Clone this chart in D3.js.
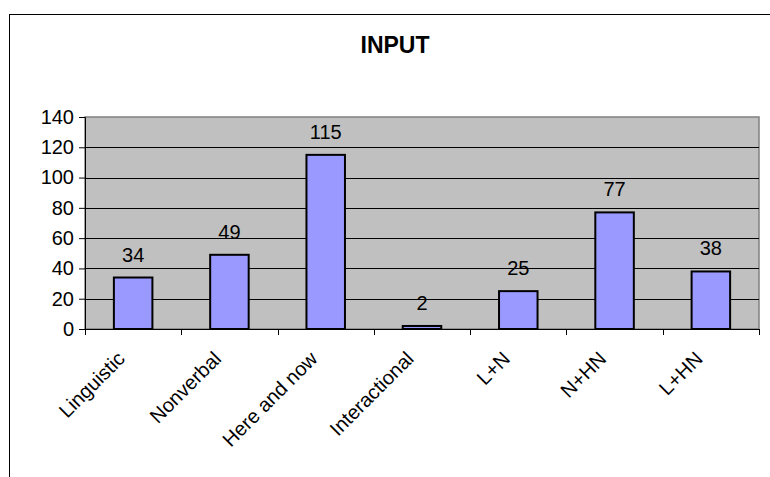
<!DOCTYPE html>
<html>
<head>
<meta charset="utf-8">
<script src="https://cdn.jsdelivr.net/npm/d3@7"></script>
<style>
  body { margin: 0; background: #fff; }
  text { font-family: "Liberation Sans", Arial, sans-serif; }
</style>
</head>
<body>
<div id="chart"></div>
<script>
// categories and counts
const categories = ["Linguistic", "Nonverbal", "Here and now", "Interactional", "L+N", "N+HN", "L+HN"];
const counts = [34, 49, 115, 2, 25, 77, 38];
const yTicks = [0, 20, 40, 60, 80, 100, 120, 140];

const W = 770, H = 477;
const margin = { top: 117, right: 11, bottom: 148, left: 85 };
const width = W - margin.left - margin.right;
const height = H - margin.top - margin.bottom;
const fontSize = "20px";

const svg = d3.select("#chart").append("svg")
    .attr("width", W)
    .attr("height", H);

// outer frame (runs off the right and bottom edges)
svg.append("rect")
    .attr("x", 9.5).attr("y", 14.5)
    .attr("width", W + 10).attr("height", H + 10)
    .attr("fill", "none")
    .attr("stroke", "#000")
    .attr("stroke-width", 1);

svg.append("text")
    .attr("x", 395).attr("y", 53)
    .attr("text-anchor", "middle")
    .style("font-size", "23px")
    .style("font-weight", "bold")
    .text("INPUT");

const g = svg.append("g")
    .attr("transform", `translate(${margin.left},${margin.top})`);

const x = d3.scaleBand()
    .domain(categories)
    .range([0, width])
    .paddingInner(0.6)
    .paddingOuter(0.3);

const y = d3.scaleLinear()
    .domain([0, 140])
    .range([height, 0]);

// plot background
g.append("rect")
    .attr("width", width)
    .attr("height", height)
    .attr("fill", "#c0c0c0")
    .attr("stroke", "#808080")
    .attr("stroke-width", 1.5);

// gridlines
g.selectAll("line.grid")
    .data(yTicks.filter(d => d > 0 && d < 140))
    .enter()
    .append("line")
    .attr("class", "grid")
    .attr("x1", 0).attr("x2", width)
    .attr("y1", d => Math.round(y(d)) + 0.5)
    .attr("y2", d => Math.round(y(d)) + 0.5)
    .attr("stroke", "#000")
    .attr("stroke-width", 1);

// bars
g.selectAll("rect.bar")
    .data(categories.map((c, i) => ({ c, v: counts[i] })))
    .enter()
    .append("rect")
    .attr("class", "bar")
    .attr("x", d => x(d.c))
    .attr("y", d => y(d.v))
    .attr("width", x.bandwidth())
    .attr("height", d => y(0) - y(d.v))
    .attr("fill", "#9999ff")
    .attr("stroke", "#000")
    .attr("stroke-width", 2);

// value labels
g.selectAll("text.val")
    .data(categories.map((c, i) => ({ c, v: counts[i] })))
    .enter()
    .append("text")
    .attr("class", "val")
    .attr("x", d => x(d.c) + x.bandwidth() / 2)
    .attr("y", d => y(d.v) - 16)
    .attr("text-anchor", "middle")
    .style("font-size", fontSize)
    .text(d => d.v);

// y axis
const yAxis = g.append("g")
    .call(d3.axisLeft(y).tickValues(yTicks).tickSize(6).tickPadding(5));
yAxis.select(".domain").attr("stroke", "#000");
yAxis.selectAll("text")
    .style("font-size", fontSize)
    .style("font-family", "'Liberation Sans', Arial, sans-serif")
    .attr("fill", "#000");

// x axis: ticks at category boundaries
const step = width / categories.length;
const xAxis = g.append("g")
    .attr("transform", `translate(0,${height})`);
xAxis.append("line")
    .attr("x1", 0).attr("x2", width)
    .attr("y1", 0.5).attr("y2", 0.5)
    .attr("stroke", "#000");
xAxis.selectAll("line.tick")
    .data(d3.range(categories.length + 1))
    .enter()
    .append("line")
    .attr("class", "tick")
    .attr("x1", i => Math.round(i * step) + 0.5)
    .attr("x2", i => Math.round(i * step) + 0.5)
    .attr("y1", 0).attr("y2", 6)
    .attr("stroke", "#000");

xAxis.selectAll("text")
    .data(categories)
    .enter()
    .append("text")
    .attr("transform", d => `translate(${x(d) + x.bandwidth() / 2 - 7},${31}) rotate(-45)`)
    .attr("text-anchor", "end")
    .style("font-size", fontSize)
    .text(d => d);
</script>
</body>
</html>
